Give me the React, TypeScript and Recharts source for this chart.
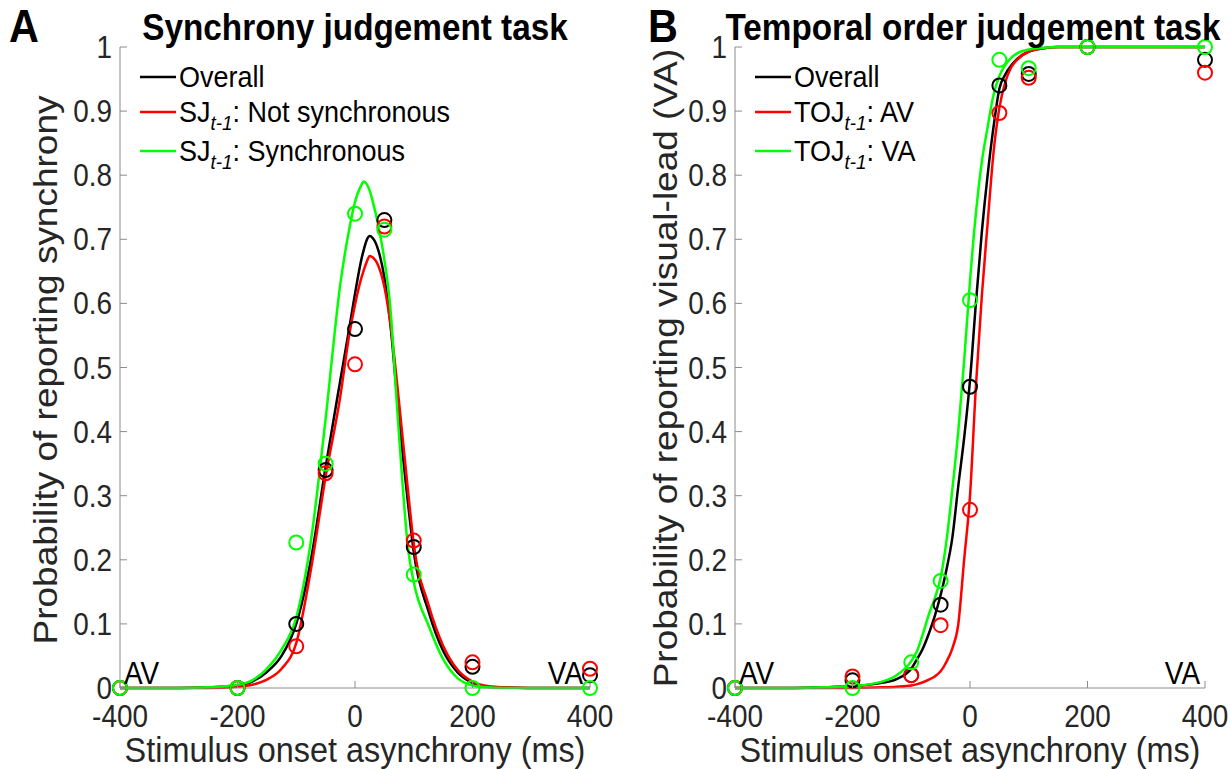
import React from 'react';
import { ComposedChart, Line, Scatter, XAxis, YAxis } from 'recharts';

// text in the original figure is horizontally squeezed
const SX = 0.9;
const axisGray = '#8c8c8c';
const textDark = '#262626';
const BLACK = '#000000';
const RED = '#ff0000';
const GREEN = '#00ff00';

// SOA levels tested (ms)
const soaLevels = [-400, -200, -100, -50, 0, 50, 100, 200, 400];

// Synchrony judgement: observed proportions
const sjOverallPts = [0, 0, 0.1, 0.34, 0.56, 0.73, 0.22, 0.033, 0.02];
const sjNotSyncPts = [0, 0, 0.065, 0.335, 0.505, 0.72, 0.23, 0.04, 0.03];
const sjSyncPts = [0, 0, 0.227, 0.35, 0.74, 0.715, 0.177, 0, 0];

// Synchrony judgement: fitted curves
const sjCurveX = [-400, -300, -250, -200, -175, -150, -125, -100, -75, -50, -25, -10, 0, 10, 15, 20, 25, 30, 40, 50, 60, 70, 80, 90, 100, 125, 150, 175, 200, 225, 250, 300, 400];
const sjOverallFit = [0, 0, 0.001, 0.004, 0.01, 0.025, 0.05, 0.1, 0.2, 0.345, 0.48, 0.56, 0.615, 0.665, 0.684, 0.699, 0.705, 0.702, 0.682, 0.64, 0.57, 0.47, 0.375, 0.29, 0.212, 0.12, 0.058, 0.024, 0.008, 0.002, 0.001, 0, 0];
const sjNotSyncFit = [0, 0, 0, 0.002, 0.005, 0.013, 0.03, 0.07, 0.185, 0.33, 0.455, 0.55, 0.598, 0.637, 0.652, 0.665, 0.674, 0.672, 0.658, 0.626, 0.57, 0.49, 0.4, 0.31, 0.225, 0.13, 0.066, 0.028, 0.01, 0.003, 0.001, 0, 0];
const sjSyncFit = [0, 0, 0.001, 0.005, 0.012, 0.03, 0.06, 0.11, 0.23, 0.42, 0.63, 0.715, 0.758, 0.783, 0.79, 0.786, 0.776, 0.76, 0.72, 0.668, 0.595, 0.46, 0.33, 0.22, 0.165, 0.098, 0.045, 0.015, 0.004, 0.001, 0, 0, 0];

// Temporal order judgement: observed proportions
const tojOverallPts = [0, 0.012, 0.02, 0.13, 0.47, 0.94, 0.958, 1, 0.98];
const tojAVPts = [0, 0.018, 0.02, 0.098, 0.278, 0.897, 0.952, 1, 0.96];
const tojVAPts = [0, 0, 0.04, 0.167, 0.605, 0.98, 0.967, 1, 1];

// Temporal order judgement: fitted curves
const tojCurveX = [-400, -300, -250, -200, -150, -125, -100, -90, -80, -70, -60, -50, -40, -30, -20, -10, 0, 10, 20, 30, 40, 50, 60, 70, 80, 100, 125, 150, 200, 300, 400];
const tojOverallFit = [0, 0, 0.001, 0.003, 0.008, 0.014, 0.03, 0.045, 0.062, 0.085, 0.112, 0.145, 0.185, 0.235, 0.315, 0.39, 0.48, 0.6, 0.71, 0.8, 0.875, 0.935, 0.957, 0.971, 0.981, 0.993, 0.998, 1, 1, 1, 1];
const tojAVFit = [0, 0, 0, 0, 0.001, 0.002, 0.004, 0.006, 0.009, 0.013, 0.018, 0.026, 0.041, 0.062, 0.099, 0.2, 0.3, 0.47, 0.61, 0.725, 0.835, 0.905, 0.945, 0.968, 0.98, 0.993, 0.998, 1, 1, 1, 1];
const tojVAFit = [0, 0, 0.001, 0.003, 0.01, 0.02, 0.042, 0.058, 0.085, 0.115, 0.14, 0.172, 0.23, 0.31, 0.4, 0.51, 0.635, 0.74, 0.82, 0.875, 0.925, 0.955, 0.972, 0.983, 0.99, 0.996, 0.999, 1, 1, 1, 1];

const xTicks = [-400, -200, 0, 200, 400];
const yTicks = [0, 0.1, 0.2, 0.3, 0.4, 0.5, 0.6, 0.7, 0.8, 0.9, 1];

const toRows = (xs: number[], ys: number[]) => xs.map((x, i) => ({ x, y: ys[i] }));

const XTick = (props: any) => {
  const { x, y, payload } = props;
  return (
    <g>
      <line x1={x} y1={y} x2={x} y2={y - 7} stroke={axisGray} />
      <text transform={`translate(${x},${y + 39}) scale(${SX},1)`} textAnchor="middle" fontSize={31} fill={textDark}>
        {payload.value}
      </text>
    </g>
  );
};

const YTick = (props: any) => {
  const { x, y, payload } = props;
  return (
    <g>
      <line x1={x} y1={y} x2={x + 7} y2={y} stroke={axisGray} />
      <text transform={`translate(${x - 8},${y + 11}) scale(${SX},1)`} textAnchor="end" fontSize={31} fill={textDark}>
        {String(payload.value)}
      </text>
    </g>
  );
};

const ring = (color: string) => (p: any) => (
  <circle cx={p.cx} cy={p.cy} r={7} fill="none" stroke={color} strokeWidth={2} />
);

type PanelProps = {
  curveX: number[];
  fits: number[][];
  pts: number[][];
  marginRight: number;
  width: number;
};

const Panel = ({ curveX, fits, pts, marginRight, width }: PanelProps) => {
  const colors = [BLACK, RED, GREEN];
  return (
    <ComposedChart width={width} height={769} margin={{ top: 47, right: marginRight, bottom: 0, left: 0 }}>
      <XAxis
        type="number"
        dataKey="x"
        domain={[-400, 400]}
        ticks={xTicks}
        interval={0}
        height={81}
        tickSize={0}
        tickMargin={0}
        tickLine={false}
        axisLine={{ stroke: axisGray }}
        tick={(p: any) => <XTick {...p} />}
      />
      <YAxis
        type="number"
        dataKey="y"
        domain={[0, 1]}
        ticks={yTicks}
        interval={0}
        width={120}
        tickSize={0}
        tickMargin={0}
        tickLine={false}
        axisLine={{ stroke: axisGray }}
        tick={(p: any) => <YTick {...p} />}
      />
      {fits.map((f, i) => (
        <Line
          key={'fit' + i}
          data={toRows(curveX, f)}
          dataKey="y"
          type="monotone"
          stroke={colors[i]}
          strokeWidth={2.5}
          dot={false}
          isAnimationActive={false}
        />
      ))}
      {pts.map((s, i) => (
        <Scatter
          key={'pts' + i}
          data={toRows(soaLevels, s)}
          dataKey="y"
          shape={ring(colors[i])}
          isAnimationActive={false}
        />
      ))}
    </ComposedChart>
  );
};

// text helper, squeezed horizontally like the source figure
const T = ({ x, y, size, anchor = 'start', bold = false, rotate = 0, fill = BLACK, children }: any) => (
  <text
    transform={`translate(${x},${y}) scale(${SX},1)${rotate ? ` rotate(${rotate})` : ''}`}
    textAnchor={anchor}
    fontSize={size}
    fontWeight={bold ? 'bold' : 'normal'}
    fill={fill}
  >
    {children}
  </text>
);

const LegendRow = ({ x, y, color, prefix, rest }: any) => (
  <g>
    <line x1={x} y1={y} x2={x + 36} y2={y} stroke={color} strokeWidth={2.5} />
    <T x={x + 39} y={y + 10} size={30}>
      {prefix}
      {rest !== undefined && (
        <>
          <tspan fontStyle="italic" fontSize={21} dy={8}>t-1</tspan>
          <tspan dy={-8}>{rest}</tspan>
        </>
      )}
    </T>
  </g>
);

const App = () => {
  return (
    <div style={{ position: 'absolute', left: 0, top: 0, width: 1231, height: 769, background: '#fff', fontFamily: '"Liberation Sans", Arial, sans-serif' }}>
      <div style={{ position: 'absolute', left: 0, top: 0 }}>
        <Panel curveX={sjCurveX} fits={[sjOverallFit, sjNotSyncFit, sjSyncFit]} pts={[sjOverallPts, sjNotSyncPts, sjSyncPts]} width={615} marginRight={25} />
      </div>
      <div style={{ position: 'absolute', left: 615, top: 0 }}>
        <Panel curveX={tojCurveX} fits={[tojOverallFit, tojAVFit, tojVAFit]} pts={[tojOverallPts, tojAVPts, tojVAPts]} width={616} marginRight={26} />
      </div>
      <svg width={1231} height={769} style={{ position: 'absolute', left: 0, top: 0, pointerEvents: 'none' }}>
        {/* panel A */}
        <T x={9} y={42} size={46} bold>A</T>
        <T x={355} y={40} size={37} bold anchor="middle">Synchrony judgement task</T>
        <T x={57} y={370} size={37} anchor="middle" rotate={-90} fill={textDark}>Probability of reporting synchrony</T>
        <T x={355} y={762} size={36} anchor="middle" fill={textDark}>Stimulus onset asynchrony (ms)</T>
        <LegendRow x={140} y={77} color={BLACK} prefix="Overall" />
        <LegendRow x={140} y={112} color={RED} prefix="SJ" rest=": Not synchronous" />
        <LegendRow x={140} y={151} color={GREEN} prefix="SJ" rest=": Synchronous" />
        <T x={124} y={684} size={31}>AV</T>
        <T x={583} y={684} size={31} anchor="end">VA</T>

        {/* panel B */}
        <T x={648} y={42} size={46} bold>B</T>
        <T x={973} y={40} size={37} bold anchor="middle">Temporal order judgement task</T>
        <T x={677} y={368} size={37} anchor="middle" rotate={-90} fill={textDark}>Probability of reporting visual-lead (VA)</T>
        <T x={970} y={762} size={36} anchor="middle" fill={textDark}>Stimulus onset asynchrony (ms)</T>
        <LegendRow x={755} y={77} color={BLACK} prefix="Overall" />
        <LegendRow x={755} y={112} color={RED} prefix="TOJ" rest=": AV" />
        <LegendRow x={755} y={151} color={GREEN} prefix="TOJ" rest=": VA" />
        <T x={739} y={684} size={31}>AV</T>
        <T x={1200} y={684} size={31} anchor="end">VA</T>
      </svg>
    </div>
  );
};

export default App;
